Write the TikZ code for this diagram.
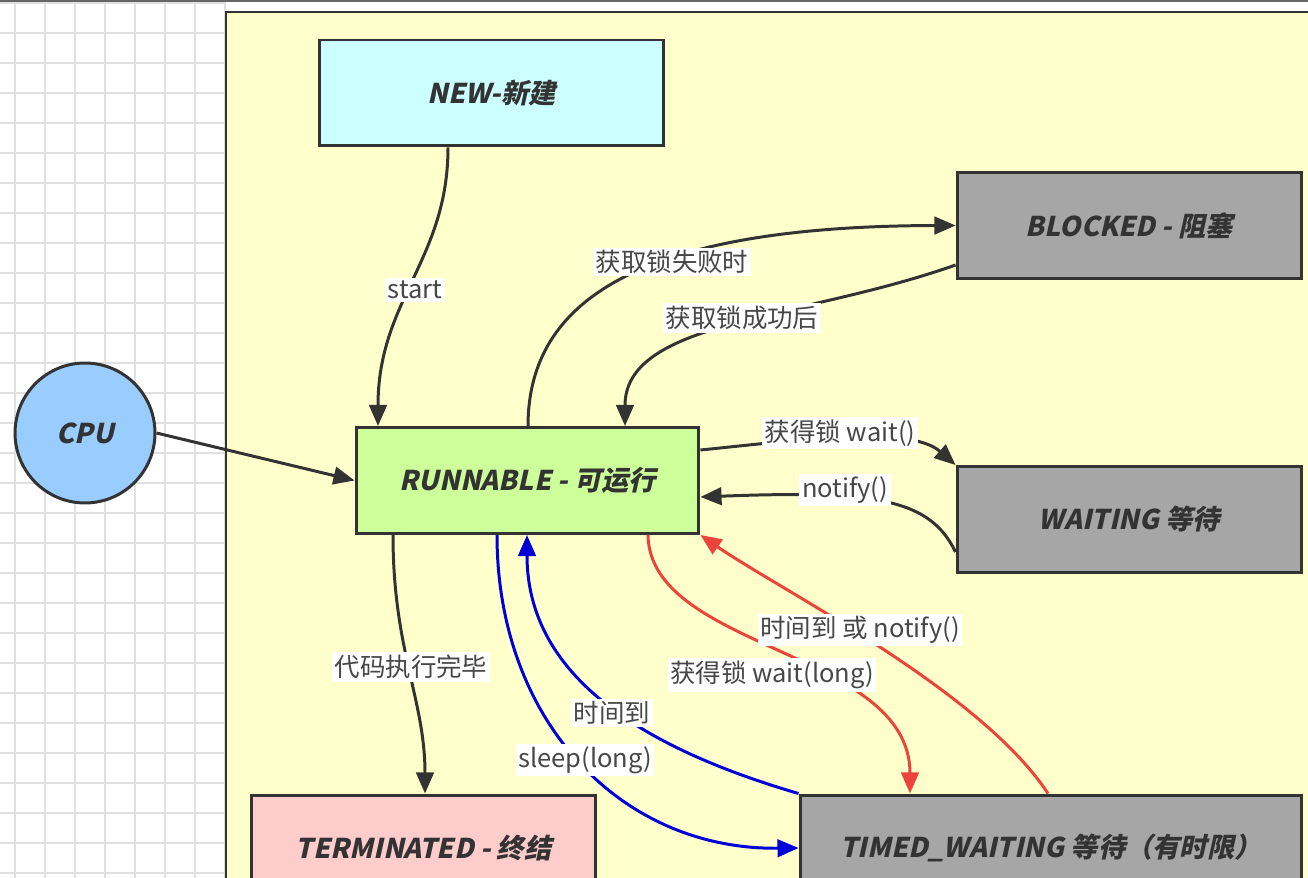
\documentclass[tikz,border=0pt]{standalone}
\usepackage{fontspec}
\setmainfont{Noto Sans CJK SC}
\newfontfamily\statefont{Noto Sans CJK SC}[FakeSlant=0.22]
\usetikzlibrary{arrows.meta}

\definecolor{paneyellow}{RGB}{255,255,204}
\definecolor{newcyan}{RGB}{204,255,255}
\definecolor{rungreen}{RGB}{204,255,153}
\definecolor{waitgray}{RGB}{166,166,166}
\definecolor{termpink}{RGB}{255,204,204}
\definecolor{cpublue}{RGB}{153,204,255}
\definecolor{sleepblue}{RGB}{0,0,215}
\definecolor{timedred}{RGB}{236,68,58}

\begin{document}
\begin{tikzpicture}[
    x=0.02cm, y=-0.02cm,
    state/.style={rectangle, draw=black!80, line width=1.7pt, minimum width=6.9cm, minimum height=2.12cm,
        font=\statefont\bfseries\fontsize{15.5}{18}\selectfont, text=black!80},
    arrow/.style={-{Triangle[length=12pt,width=10pt]}, line width=1.7pt, draw=black!80},
    lbl/.style={fill=white, inner sep=1.5pt, font=\fontsize{14.5}{17}\selectfont, text=black!72},
    gridline/.style={draw=black!12, line width=0.7pt}
]
\useasboundingbox (0,0) rectangle (1308,878);
\clip (0,0) rectangle (1308,878);

% Background grid
\fill[white] (0,0) rectangle (1308,878);
\foreach \gx in {15,45,...,225} \draw[gridline] (\gx,0) -- (\gx,878);
\foreach \gy in {3,33,...,878} \draw[gridline] (0,\gy) -- (226,\gy);
\draw[black!60, line width=1.2pt] (0,1) -- (1308,1);

% Pane
\draw[fill=paneyellow, draw=black!80, line width=1.7pt] (226,12) rectangle (1330,900);

% States
\node[state, fill=newcyan] (new) at (491.5,93) {NEW-新建};
\node[state, fill=waitgray] (blocked) at (1129.5,225.5) {BLOCKED - 阻塞};
\node[state, fill=rungreen, minimum width=6.86cm] (run) at (527.5,480.5) {RUNNABLE - 可运行};
\node[state, fill=waitgray] (waiting) at (1129.5,519.5) {WAITING 等待};
\node[state, fill=termpink] (term) at (423.5,848) {TERMINATED - 终结};
\node[state, fill=waitgray, minimum width=10.04cm] (timed) at (1051,848) {TIMED\_WAITING 等待（有时限）};
\node[circle, draw=black!80, line width=1.7pt, fill=cpublue, minimum size=2.8cm,
      font=\statefont\bfseries\fontsize{15.5}{18}\selectfont, text=black!80] (cpu) at (85,433) {CPU};

% Arrows
\draw[arrow] (448,0 |- new.south) .. controls (448,260) and (378,300) .. (378,0 |- run.north);
\draw[arrow] (528,0 |- run.north) .. controls (528,300) and (640,226) .. (blocked.west);
\draw[arrow] (blocked.west |- 0,265) .. controls (800,320) and (625,320) .. (625,0 |- run.north);
\draw[arrow] (run.east |- 0,450) .. controls (800,440) and (910,425) .. (waiting.north west);
\draw[arrow] (waiting.west |- 0,552) .. controls (930,500) and (880,490) .. (run.east |- 0,497);
\draw[arrow] (cpu.east) -- (run.west);
\draw[arrow] (393,0 |- run.south) .. controls (393,650) and (425,700) .. (425,0 |- term.north);
\draw[arrow, draw=sleepblue] (497,0 |- run.south) .. controls (497,720) and (620,850) .. (timed.west);
\draw[arrow, draw=sleepblue] (timed.north west) .. controls (650,750) and (527,680) .. (527,0 |- run.south);
\draw[arrow, draw=timedred] (648,0 |- run.south) .. controls (650,650) and (910,650) .. (910,0 |- timed.north);
\draw[arrow, draw=timedred] (1048,0 |- timed.north) .. controls (980,690) and (780,590) .. (run.south east);

% Labels
\node[lbl] (startlbl) at (415,290) {start};
\node[lbl] (faillbl) at (672,262) {获取锁失败时};
\node[lbl] (oklbl) at (742,318) {获取锁成功后};
\node[lbl] (waitlbl) at (840,433) {获得锁 wait()};
\node[lbl] (notifylbl) at (845,490) {notify()};
\node[lbl] (donelbl) at (411,667) {代码执行完毕};
\node[lbl] (sleeplbl) at (585,760) {sleep(long)};
\node[lbl] (timeuplbl) at (612,713) {时间到};
\node[lbl] (waitlonglbl) at (772,675) {获得锁 wait(long)};
\node[lbl] (timenotifylbl) at (860,630) {时间到 或 notify()};

\end{tikzpicture}
\end{document}
